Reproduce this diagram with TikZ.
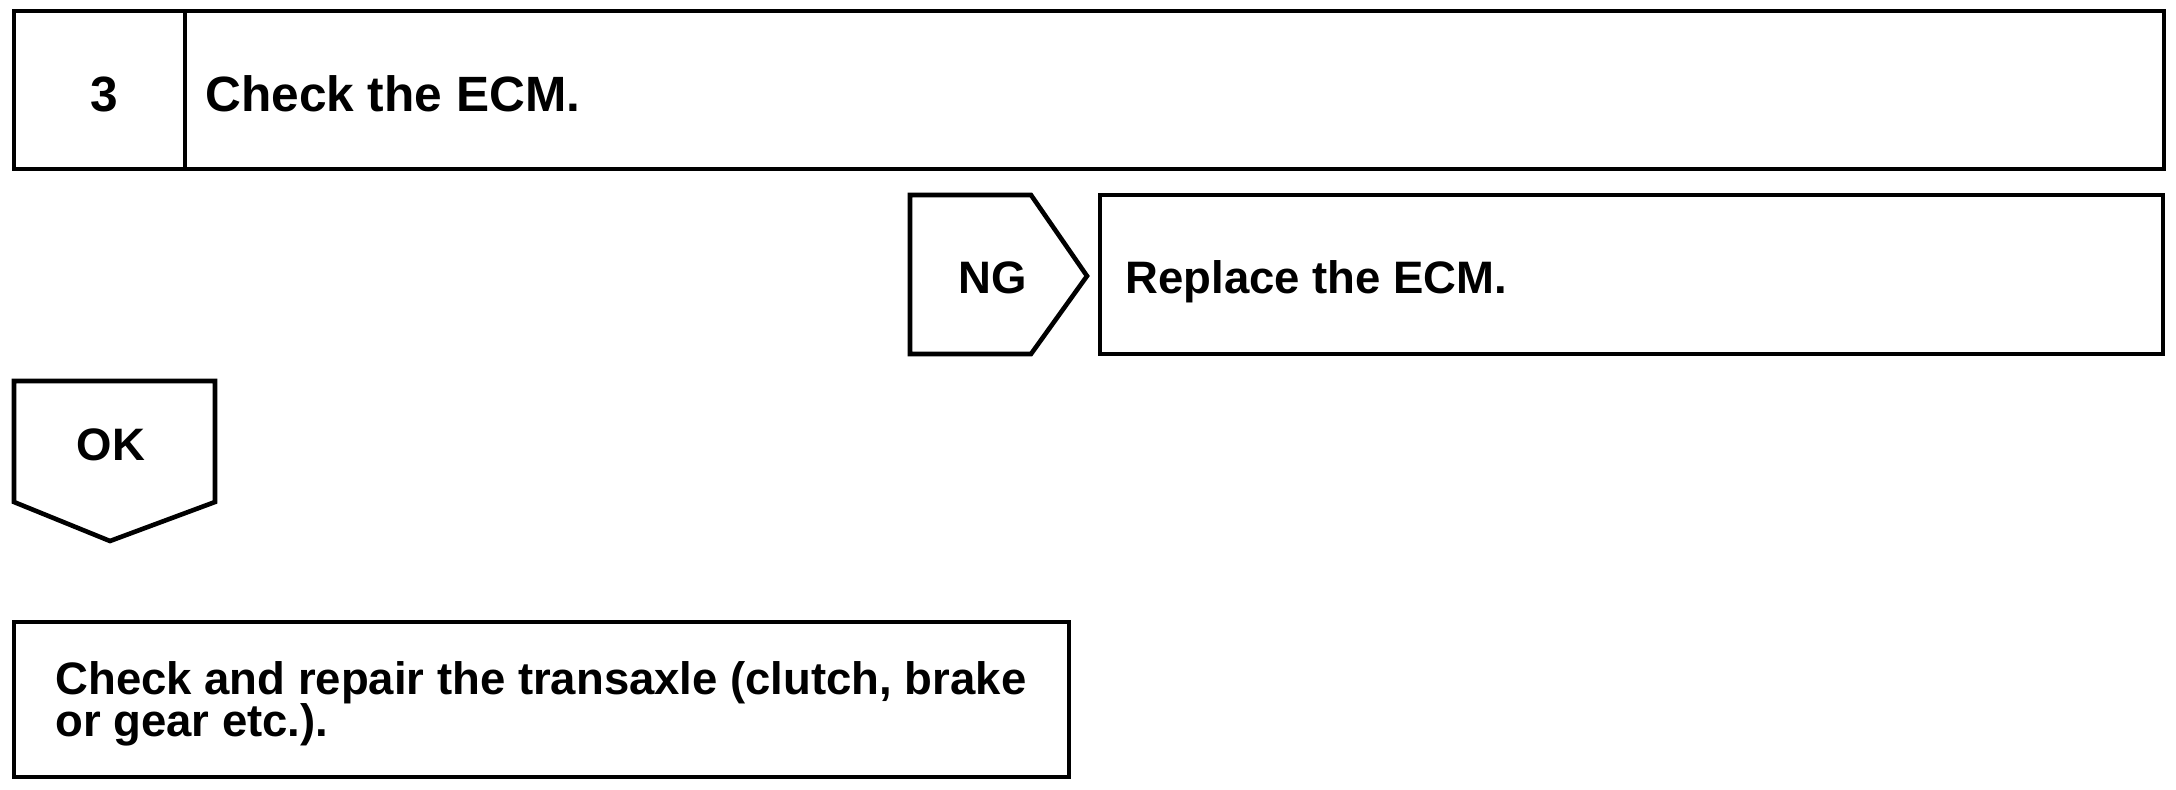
\documentclass[tikz,border=0pt]{standalone}
\usepackage{fontspec}
\setmainfont{Liberation Sans}
\begin{document}
\lineskiplimit=-50pt
\begin{tikzpicture}[x=0.5pt,y=-0.5pt, line join=miter]
\tikzset{
  box/.style={draw=black, line width=2.3pt},
  biglbl/.style={font=\fontsize{24.8}{28}\selectfont\bfseries, inner sep=0pt},
  lbl/.style={font=\fontsize{22.75}{21}\selectfont\bfseries, inner sep=0pt, align=left}
}
\useasboundingbox (0,0) rectangle (2176,789);
% step box
\draw[box] (14,11) rectangle (2164,169);
\draw[box] (185,11) -- (185,169);
\node[biglbl, anchor=base] (num) at (104,111) {3};
\node[biglbl, anchor=base west] (t1) at (205,111) {Check the ECM.};
% NG
\draw[box] (910,195) -- (1031,195) -- (1087,276) -- (1031,354) -- (910,354) -- cycle;
\node[lbl, anchor=base] (ng) at (993,293) {NG};
\draw[box] (1100,195) rectangle (2163,354);
\node[lbl, anchor=base west] (rep) at (1125,293) {Replace the ECM.};
% OK
\draw[box] (14,381) -- (215,381) -- (215,502) -- (110,541) -- (14,502) -- cycle;
\node[lbl, anchor=base] (ok) at (111,460) {OK};
% final
\draw[box] (14,622) rectangle (1069,777);
\node[lbl, anchor=base west] (fin) at (55,736) {Check and repair the transaxle (clutch, brake\\or gear etc.).};
\end{tikzpicture}
\end{document}
